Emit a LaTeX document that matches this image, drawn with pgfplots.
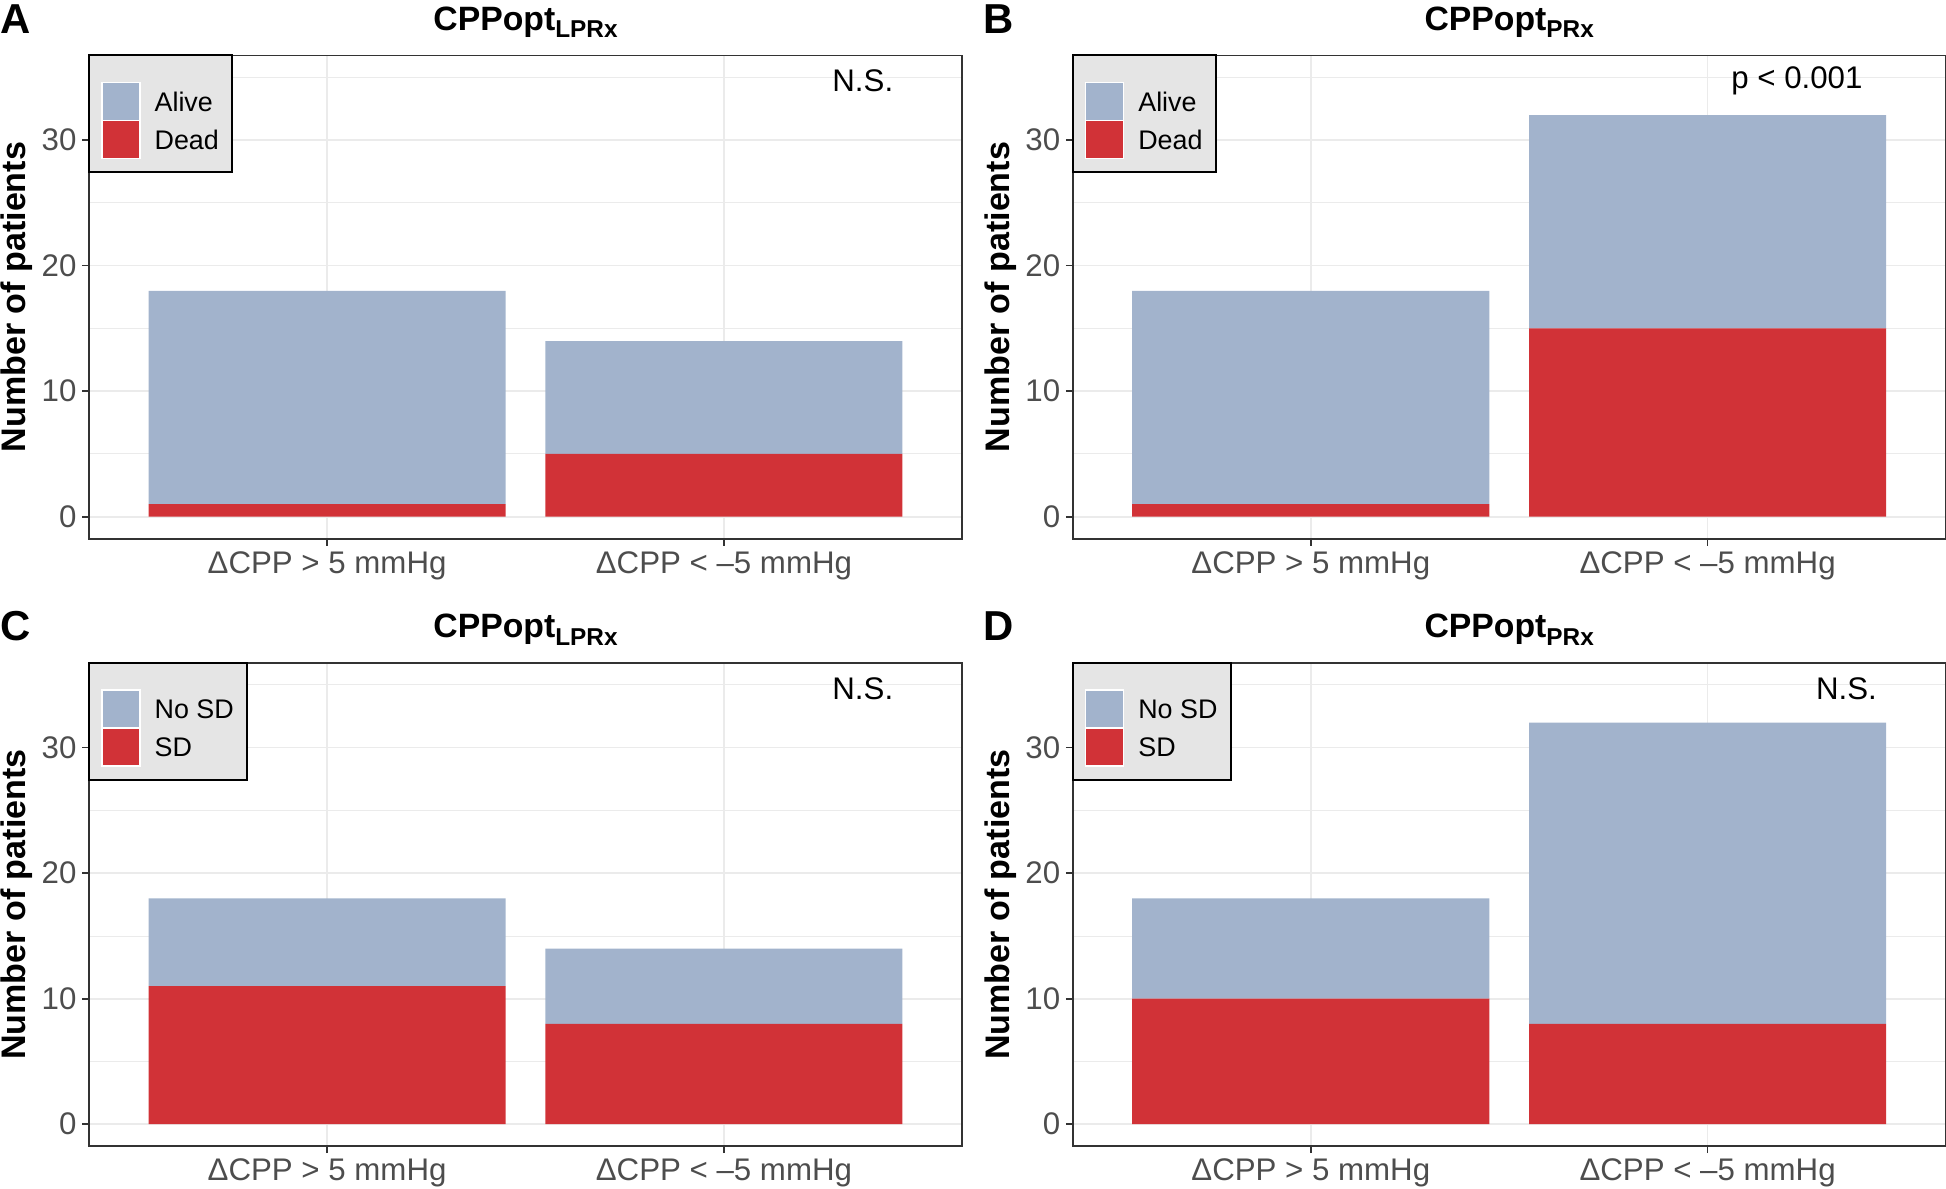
\documentclass[border=0pt]{standalone}
\usepackage{fontspec}
\setmainfont{Liberation Sans}
\usepackage{pgfplots}
\pgfplotsset{compat=1.18}
\definecolor{alivec}{HTML}{A2B3CC}
\definecolor{deadc}{HTML}{D13237}
\definecolor{gridc}{HTML}{EBEBEB}
\definecolor{tickc}{HTML}{4D4D4D}
\definecolor{legbg}{HTML}{E5E5E5}
\definecolor{framec}{HTML}{333333}
\pgfplotsset{
 panel/.style={
  scale only axis, width=279.36pt, height=154.62pt,
  xmin=-0.6, xmax=1.6, ymin=-1.75, ymax=36.75,
  xtick={0,1}, xticklabels={ΔCPP > 5 mmHg, ΔCPP < –5 mmHg},
  ytick={0,10,20,30}, minor ytick={5,15,25,35},
  grid=both,
  major grid style={color=gridc, line width=0.5pt},
  minor grid style={color=gridc, line width=0.3pt},
  axis line style={color=framec, line width=0.6pt},
  tick align=outside, major tick length=2.2pt, minor tick length=0pt,
  tick style={color=framec, line width=0.5pt},
  tick pos=left,
  ticklabel style={font=\fontsize{10}{12}\selectfont, text=tickc},
  yticklabel style={inner xsep=1.6pt},
  xticklabel style={yshift=1.6pt},
  /pgf/number format/assume math mode=true,
  ybar stacked, bar width=0.9,
  clip=false,
 },
}
\tikzset{
 ttl/.style={font=\bfseries\fontsize{10.8}{12}\selectfont, anchor=base},
 ylab/.style={font=\bfseries\fontsize{10.9}{13}\selectfont, rotate=90, anchor=center},
 letter/.style={font=\bfseries\fontsize{13.4}{15}\selectfont, anchor=base west, inner sep=0pt},
 ann/.style={font=\fontsize{10}{12}\selectfont, anchor=center},
 legt/.style={font=\fontsize{8.6}{10}\selectfont, anchor=west, inner sep=0pt},
}
\newcommand{\sub}[1]{\raisebox{-2.3pt}{\fontsize{7.8}{9}\selectfont #1}}
\newcommand{\decor}[2]{%
  \node[letter] at ([xshift=-28.6pt,yshift=7.1pt]rel axis cs:0,1) {#1};
  \node[ttl] at ([yshift=8pt]rel axis cs:0.5,1) {#2};
  \node[ylab] at ([xshift=-23.04pt]rel axis cs:0,0.5) {Number of patients};
}
\newcommand{\legbox}[4]{% axis name, width, label1, label2
  \draw[fill=legbg, draw=black, line width=0.64pt] (#1.north west) rectangle ([xshift=#2,yshift=-37.44pt]#1.north west);
  \fill[alivec, draw=white, line width=0.4pt] ([xshift=4.16pt,yshift=-8.64pt]#1.north west) rectangle ([xshift=16.32pt,yshift=-20.8pt]#1.north west);
  \fill[deadc, draw=white, line width=0.4pt] ([xshift=4.16pt,yshift=-20.8pt]#1.north west) rectangle ([xshift=16.32pt,yshift=-32.96pt]#1.north west);
  \node[legt] at ([xshift=20.8pt,yshift=-14.72pt]#1.north west) {#3};
  \node[legt] at ([xshift=20.8pt,yshift=-26.88pt]#1.north west) {#4};
}
\begin{document}
\begin{tikzpicture}
\useasboundingbox (0,0) rectangle (622.72pt,380.16pt);
% Panel A
\begin{axis}[panel, name=pa, at={(28.48pt,207.78pt)}, anchor=south west]
\addplot[fill=deadc, draw=none] coordinates {(0,1) (1,5)};
\addplot[fill=alivec, draw=none] coordinates {(0,17) (1,9)};
\decor{A}{CPPopt\sub{LPRx}}
\node[ann] at (axis cs:1.35,34.7) {N.S.};
\end{axis}
\legbox{pa}{45.76pt}{Alive}{Dead}
% Panel B
\begin{axis}[panel, name=pb, at={(343.26pt,207.78pt)}, anchor=south west]
\addplot[fill=deadc, draw=none] coordinates {(0,1) (1,15)};
\addplot[fill=alivec, draw=none] coordinates {(0,17) (1,17)};
\decor{B}{CPPopt\sub{PRx}}
\node[ann] at (axis cs:1.225,34.7) {p < 0.001};
\end{axis}
\legbox{pb}{45.76pt}{Alive}{Dead}
% Panel C
\begin{axis}[panel, name=pc, at={(28.48pt,13.38pt)}, anchor=south west]
\addplot[fill=deadc, draw=none] coordinates {(0,11) (1,8)};
\addplot[fill=alivec, draw=none] coordinates {(0,7) (1,6)};
\decor{C}{CPPopt\sub{LPRx}}
\node[ann] at (axis cs:1.35,34.7) {N.S.};
\end{axis}
\legbox{pc}{50.56pt}{No SD}{SD}
% Panel D
\begin{axis}[panel, name=pd, at={(343.26pt,13.38pt)}, anchor=south west]
\addplot[fill=deadc, draw=none] coordinates {(0,10) (1,8)};
\addplot[fill=alivec, draw=none] coordinates {(0,8) (1,24)};
\decor{D}{CPPopt\sub{PRx}}
\node[ann] at (axis cs:1.35,34.7) {N.S.};
\end{axis}
\legbox{pd}{50.56pt}{No SD}{SD}
\end{tikzpicture}
\end{document}
